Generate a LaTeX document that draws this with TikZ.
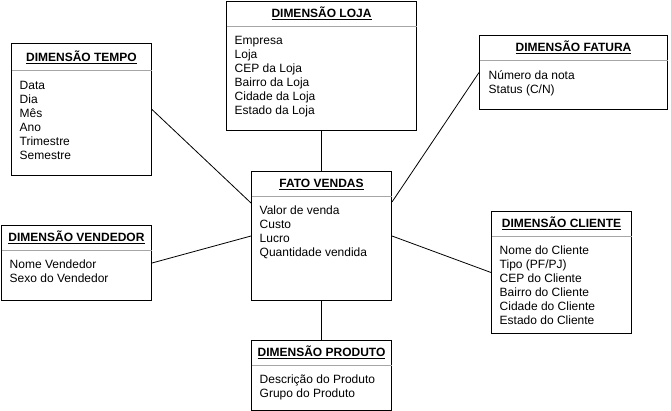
\documentclass[tikz,border=0pt]{standalone}
\usepackage{fontspec}
\setmainfont{Liberation Sans}
\usetikzlibrary{positioning}

\begin{document}
\begin{tikzpicture}[x=1pt,y=-1pt,
    tablebox/.style={draw=black,line width=1pt,inner sep=0pt,anchor=north west},
    tabletitle/.style={font=\fontsize{12}{14}\selectfont\bfseries,inner sep=0pt,anchor=base},
    tableattrs/.style={font=\fontsize{12}{14}\selectfont,align=left,inner sep=0pt,anchor=north west,
                       execute at begin node=\strut},
    sepline/.style={draw=black!35,line width=0.8pt}]
\useasboundingbox (0,0) rectangle (671,411);

\begin{scope}
    % tables
    \node (tempo)[tablebox,minimum width=140pt,minimum height=132pt] at (11,43) {};
    \node (loja)[tablebox,minimum width=190pt,minimum height=129pt] at (226,1) {};
    \node (fato)[tablebox,minimum width=140pt,minimum height=129pt] at (251,171) {};
    \node (cliente)[tablebox,minimum width=140pt,minimum height=122pt] at (491,211) {};
    \node (produto)[tablebox,minimum width=140pt,minimum height=70pt] at (251,340) {};
    \node (fatura)[tablebox,minimum width=188pt,minimum height=74pt] at (479,35) {};
    \node (vendedor)[tablebox,minimum width=150pt,minimum height=75pt] at (1,225) {};

    % titles
    \node (tempoT)[tabletitle] at ([shift={(0,18.8)}]tempo.north) {\underline{DIMENSÃO TEMPO}};
    \node (lojaT)[tabletitle] at ([shift={(0,16.8)}]loja.north) {\underline{DIMENSÃO LOJA}};
    \node (fatoT)[tabletitle] at ([shift={(0,16.8)}]fato.north) {\underline{FATO VENDAS}};
    \node (clienteT)[tabletitle] at ([shift={(0,16.8)}]cliente.north) {\underline{DIMENSÃO CLIENTE}};
    \node (produtoT)[tabletitle] at ([shift={(0,16.8)}]produto.north) {\underline{DIMENSÃO PRODUTO}};
    \node (faturaT)[tabletitle] at ([shift={(0,16.8)}]fatura.north) {\underline{DIMENSÃO FATURA}};
    \node (vendedorT)[tabletitle] at ([shift={(0,16.8)}]vendedor.north) {\underline{DIMENSÃO VENDEDOR}};

    % header lines
    \draw[sepline] ([shift={(0.5,27)}]tempo.north west) -- ([shift={(-0.5,27)}]tempo.north east);
    \draw[sepline] ([shift={(0.5,25)}]loja.north west) -- ([shift={(-0.5,25)}]loja.north east);
    \draw[sepline] ([shift={(0.5,25)}]fato.north west) -- ([shift={(-0.5,25)}]fato.north east);
    \draw[sepline] ([shift={(0.5,25)}]cliente.north west) -- ([shift={(-0.5,25)}]cliente.north east);
    \draw[sepline] ([shift={(0.5,25)}]produto.north west) -- ([shift={(-0.5,25)}]produto.north east);
    \draw[sepline] ([shift={(0.5,25)}]fatura.north west) -- ([shift={(-0.5,25)}]fatura.north east);
    \draw[sepline] ([shift={(0.5,25)}]vendedor.north west) -- ([shift={(-0.5,25)}]vendedor.north east);

    % attributes
    \node (tempoA)[tableattrs] at ([shift={(8.5,38)}]tempo.north west)
        {Data\\Dia\\Mês\\Ano\\Trimestre\\Semestre};
    \node (lojaA)[tableattrs] at ([shift={(8.5,35)}]loja.north west)
        {Empresa\\Loja\\CEP da Loja\\Bairro da Loja\\Cidade da Loja\\Estado da Loja};
    \node (fatoA)[tableattrs] at ([shift={(8.5,35)}]fato.north west)
        {Valor de venda\\Custo\\Lucro\\Quantidade vendida};
    \node (clienteA)[tableattrs] at ([shift={(8.5,35)}]cliente.north west)
        {Nome do Cliente\\Tipo (PF/PJ)\\CEP do Cliente\\Bairro do Cliente\\Cidade do Cliente\\Estado do Cliente};
    \node (produtoA)[tableattrs] at ([shift={(8.5,35)}]produto.north west)
        {Descrição do Produto\\Grupo do Produto};
    \node (faturaA)[tableattrs] at ([shift={(9.5,35)}]fatura.north west)
        {Número da nota\\Status (C/N)};
    \node (vendedorA)[tableattrs] at ([shift={(8.5,35)}]vendedor.north west)
        {Nome Vendedor\\Sexo do Vendedor};
\end{scope}

\begin{scope}[every edge/.style={draw=black,line width=0.8pt}]
    \path (loja.south) edge (fato.north);
    \path (fato.south) edge (produto.north);
    \path (tempo.east) edge ([shift={(0,32)}]fato.north west);
    \path (fatura.west) edge ([shift={(0,31)}]fato.north east);
    \path (vendedor.east) edge (fato.west);
    \path (fato.east) edge (cliente.west);
\end{scope}
\end{tikzpicture}
\end{document}
